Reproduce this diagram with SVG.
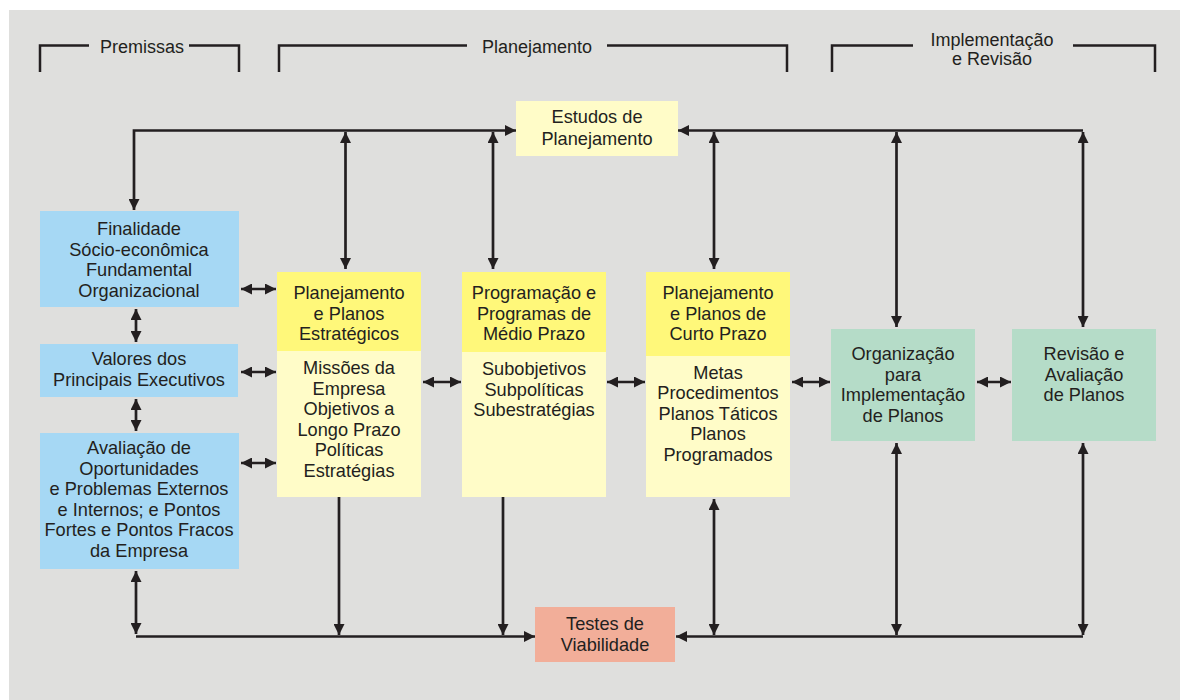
<svg xmlns="http://www.w3.org/2000/svg" width="1180" height="700" viewBox="0 0 1180 700">
  <style>
    text { font-family: "Liberation Sans", Arial, sans-serif; font-size: 18.2px; fill: #231f20; text-anchor: middle; }
    .hdr { font-size: 18px; }
    .ln { fill: none; stroke: #231f20; stroke-width: 2.7; }
    .br { fill: none; stroke: #231f20; stroke-width: 2.5; }
    .arr { marker-end: url(#ah); }
    .dbl { marker-start: url(#ah); marker-end: url(#ah); }
    .blue { fill: #a6d8f4; }
    .yhead { fill: #fff87a; }
    .ybody { fill: #fffcc8; }
    .green { fill: #b5dcc8; }
    .salmon { fill: #f2ae99; }
  </style>
  <defs>
    <marker id="ah" viewBox="0 0 10 10" refX="10" refY="5" markerWidth="11" markerHeight="11" markerUnits="userSpaceOnUse" orient="auto-start-reverse">
      <path d="M0,0 L10,5 L0,10 z" fill="#231f20"/>
    </marker>
  </defs>

  <!-- page background -->
  <rect x="0" y="0" width="1180" height="700" fill="#ffffff"/>
  <rect x="9" y="10" width="1171" height="690" fill="#dfdfdd"/>

  <!-- section brackets -->
  <g id="sections">
    <path class="br" d="M40,72 V45.5 H89 M189,45.5 H239 V72"/>
    <text class="hdr" x="142" y="53">Premissas</text>
    <path class="br" d="M279,72 V45.5 H467 M607,45.5 H787 V72"/>
    <text class="hdr" x="537" y="53">Planejamento</text>
    <path class="br" d="M832,72 V45.5 H913 M1073,45.5 H1155 V72"/>
    <text class="hdr" x="992" y="46">Implementação</text>
    <text class="hdr" x="992" y="65">e Revisão</text>
  </g>

  <!-- connectors -->
  <g id="connectors">
    <!-- top bus -->
    <path class="ln dbl" d="M516,130.5 H134 V210"/>
    <path class="ln arr" d="M1083,130.5 H678"/>
    <line class="ln dbl" x1="345.5" y1="132" x2="345.5" y2="269"/>
    <line class="ln dbl" x1="493" y1="132" x2="493" y2="269"/>
    <line class="ln dbl" x1="714" y1="132" x2="714" y2="269"/>
    <line class="ln dbl" x1="896.5" y1="132" x2="896.5" y2="327"/>
    <line class="ln dbl" x1="1083" y1="132" x2="1083" y2="327"/>

    <!-- premise column -->
    <line class="ln dbl" x1="136" y1="309" x2="136" y2="342"/>
    <line class="ln dbl" x1="136" y1="399" x2="136" y2="431"/>
    <line class="ln dbl" x1="136" y1="571" x2="136" y2="634"/>
    <line class="ln dbl" x1="241" y1="289" x2="276" y2="289"/>
    <line class="ln dbl" x1="241" y1="372" x2="276" y2="372"/>
    <line class="ln dbl" x1="241" y1="463" x2="276" y2="463"/>

    <!-- planning row -->
    <line class="ln dbl" x1="423" y1="382" x2="461" y2="382"/>
    <line class="ln dbl" x1="607" y1="382" x2="645" y2="382"/>
    <line class="ln dbl" x1="792" y1="382" x2="830" y2="382"/>
    <line class="ln dbl" x1="977" y1="382" x2="1011" y2="382"/>

    <!-- bottom bus -->
    <path class="ln arr" d="M136,636.5 H535"/>
    <path class="ln arr" d="M1083,636.5 H676"/>
    <line class="ln arr" x1="339" y1="497" x2="339" y2="635"/>
    <line class="ln arr" x1="503" y1="497" x2="503" y2="635"/>
    <line class="ln dbl" x1="714" y1="499" x2="714" y2="635"/>
    <line class="ln dbl" x1="896.5" y1="443" x2="896.5" y2="635"/>
    <line class="ln dbl" x1="1083" y1="443" x2="1083" y2="635"/>
  </g>

  <g id="estudos">
    <rect class="ybody" x="516" y="101" width="162" height="55"/>
    <text x="597" y="123">Estudos de</text>
    <text x="597" y="145">Planejamento</text>
  </g>

  <g id="finalidade">
    <rect class="blue" x="40" y="211" width="199" height="96"/>
    <text x="139" y="235">Finalidade</text>
    <text x="139" y="255.5">Sócio-econômica</text>
    <text x="139" y="276">Fundamental</text>
    <text x="139" y="296.5">Organizacional</text>
  </g>

  <g id="valores">
    <rect class="blue" x="40" y="344" width="198" height="53"/>
    <text x="139" y="365">Valores dos</text>
    <text x="139" y="385.5">Principais Executivos</text>
  </g>

  <g id="avaliacao">
    <rect class="blue" x="40" y="433" width="199" height="136"/>
    <text x="139" y="454">Avaliação de</text>
    <text x="139" y="474.5">Oportunidades</text>
    <text x="139" y="495">e Problemas Externos</text>
    <text x="139" y="515.5">e Internos; e Pontos</text>
    <text x="139" y="536">Fortes e Pontos Fracos</text>
    <text x="139" y="556.5">da Empresa</text>
  </g>

  <g id="estrategico">
    <rect class="ybody" x="277" y="272" width="144" height="225"/>
    <rect class="yhead" x="277" y="272" width="144" height="79"/>
    <text x="349" y="299">Planejamento</text>
    <text x="349" y="319.5">e Planos</text>
    <text x="349" y="340">Estratégicos</text>
    <text x="349" y="374">Missões da</text>
    <text x="349" y="394.5">Empresa</text>
    <text x="349" y="415">Objetivos a</text>
    <text x="349" y="435.5">Longo Prazo</text>
    <text x="349" y="456">Políticas</text>
    <text x="349" y="476.5">Estratégias</text>
  </g>

  <g id="medio-prazo">
    <rect class="ybody" x="462" y="272" width="144" height="225"/>
    <rect class="yhead" x="462" y="272" width="144" height="80"/>
    <text x="534" y="299">Programação e</text>
    <text x="534" y="319.5">Programas de</text>
    <text x="534" y="340">Médio Prazo</text>
    <text x="534" y="375">Subobjetivos</text>
    <text x="534" y="395.5">Subpolíticas</text>
    <text x="534" y="416">Subestratégias</text>
  </g>

  <g id="curto-prazo">
    <rect class="ybody" x="646" y="272" width="144" height="225"/>
    <rect class="yhead" x="646" y="272" width="144" height="84"/>
    <text x="718" y="299">Planejamento</text>
    <text x="718" y="319.5">e Planos de</text>
    <text x="718" y="340">Curto Prazo</text>
    <text x="718" y="378.5">Metas</text>
    <text x="718" y="399">Procedimentos</text>
    <text x="718" y="419.5">Planos Táticos</text>
    <text x="718" y="440">Planos</text>
    <text x="718" y="460.5">Programados</text>
  </g>

  <g id="organizacao">
    <rect class="green" x="831" y="329" width="144" height="112"/>
    <text x="903" y="360">Organização</text>
    <text x="903" y="380.5">para</text>
    <text x="903" y="401">Implementação</text>
    <text x="903" y="421.5">de Planos</text>
  </g>

  <g id="revisao">
    <rect class="green" x="1012" y="329" width="144" height="112"/>
    <text x="1084" y="360">Revisão e</text>
    <text x="1084" y="380.5">Avaliação</text>
    <text x="1084" y="401">de Planos</text>
  </g>

  <g id="testes">
    <rect class="salmon" x="535" y="607" width="140" height="55"/>
    <text x="605" y="630">Testes de</text>
    <text x="605" y="651">Viabilidade</text>
  </g>
</svg>
